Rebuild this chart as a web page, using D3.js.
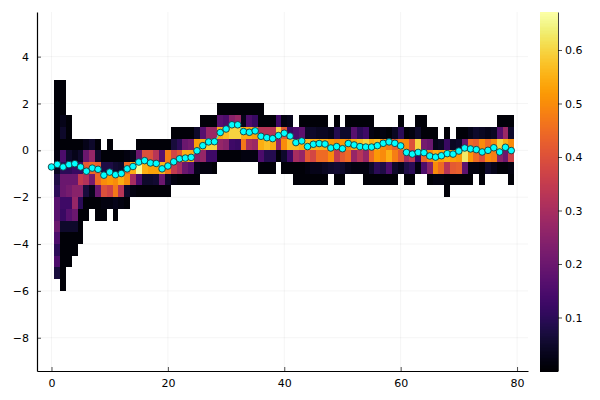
<!DOCTYPE html>
<html>
<head>
    <meta charset="utf-8">
    <title>Heatmap with means</title>
    <script src="https://d3js.org/d3.v7.min.js"></script>
    <style>
        body { margin: 0; background: #fff; }
        text { font-family: "DejaVu Sans", sans-serif; }
    </style>
</head>
<body>
    <div id="chart"></div>

    <script>
        const xTicks = [0, 20, 40, 60, 80];
        const yTicks = [-8, -6, -4, -2, 0, 2, 4];
        const colorTicks = [0.1, 0.2, 0.3, 0.4, 0.5, 0.6];

        // top edge of each histogram bin
        const binTops = [3, 2.5, 2, 1.5, 1, 0.5, 0, -0.5, -1, -1.5, -2, -2.5, -3, -3.5, -4, -4.5, -5, -5.5];
        const binSize = 0.5;

        // index of the first filled bin in each column (columns start at x = 1)
        const firstBin = [
            0, 0, 3, 5, 5, 5, 5, 5, 6, 5, 6, 6, 6, 6, 5, 5, 5, 5, 5, 5,
            4, 4, 4, 4, 4, 3, 3, 3, 2, 2, 2, 2, 2, 2, 2, 2, 3, 3, 3, 3,
            3, 4, 3, 3, 3, 3, 3, 4, 3, 4, 3, 3, 3, 3, 3, 4, 4, 4, 4, 3,
            4, 4, 3, 3, 4, 4, 5, 4, 5, 4, 4, 4, 4, 4, 4, 4, 3, 3, 3
        ];

        // density per column, reading down from the first filled bin
        const density = [
            [.01,.01,.01,.01,.01,.01,.02,.04,.08,.1,.17,.17,.2,.15,.1,.15,.07],
            [.01,.01,.01,.03,.05,.01,.15,.1,.2,.2,.13,.12,.05,.01,.01,.01,.01,.01],
            [.01,.01,.01,.05,.1,.2,.22,.13,.17,.05,.01,.01,.01],
            [.01,.03,.12,.2,.25,.27,.2,.05,.01,.01],
            [.01,.05,.12,.35,.25,.1,.01,.01,.01],
            [.03,.2,.42,.32,.07,.01,.01],
            [.05,.27,.45,.22,.03,.01],
            [.01,.05,.43,.45,.2,.01,.01],
            [.01,.08,.5,.4,.02,.01],
            [.01,.01,.08,.52,.37,.02],
            [.01,.06,.5,.47,.03,.01],
            [.01,.05,.55,.33,.02],
            [.02,.45,.5,.05,.01],
            [.03,.55,.3,.02],
            [.01,.2,.66,.15,.01],
            [.01,.4,.55,.05,.01],
            [.01,.4,.53,.05,.01],
            [.01,.33,.53,.06,.01],
            [.01,.17,.56,.2,.01],
            [.01,.48,.47,.05,.01],
            [.01,.07,.38,.35,.02],
            [.01,.1,.42,.3,.01],
            [.01,.2,.55,.2,.01],
            [.01,.22,.55,.17,.01],
            [.05,.53,.25,.03,.01],
            [.01,.17,.55,.27,.02],
            [.01,.28,.6,.13,.02],
            [.01,.28,.6,.13,.01],
            [.01,.17,.55,.27,.01],
            [.01,.15,.57,.25,.01],
            [.01,.25,.6,.13,.01],
            [.01,.28,.6,.12,.01],
            [.01,.03,.55,.47,.02],
            [.01,.15,.55,.3,.02],
            [.01,.12,.53,.28,.02],
            [.01,.01,.33,.55,.15,.01],
            [.01,.33,.57,.09,.01],
            [.01,.33,.55,.09,.01],
            [.13,.6,.27,.01],
            [.02,.42,.5,.05,.01],
            [.03,.12,.57,.13,.01],
            [.15,.57,.3,.01,.01],
            [.01,.18,.55,.27,.01,.01],
            [.01,.05,.57,.42,.02,.01],
            [.01,.05,.55,.38,.03,.01],
            [.01,.04,.55,.45,.03,.01],
            [.01,.04,.55,.45,.04,.01],
            [.03,.52,.5,.05],
            [.01,.09,.5,.35,.06,.01],
            [.05,.52,.42,.05,.01],
            [.01,.05,.5,.45,.03],
            [.01,.17,.55,.27,.02],
            [.01,.1,.57,.33,.02],
            [.01,.13,.6,.27,.02,.01],
            [.01,.02,.55,.45,.05,.01],
            [.01,.57,.52,.1,.01],
            [.02,.5,.5,.08,.01],
            [.01,.47,.55,.15,.01],
            [.04,.43,.48,.05,.01],
            [.01,.1,.5,.42,.03],
            [.01,.5,.3,.08,.01],
            [.02,.4,.35,.1,.01],
            [.01,.05,.6,.12,.02],
            [.01,.01,.22,.45,.15],
            [.01,.2,.5,.25,.01],
            [.01,.03,.55,.5,.02],
            [.04,.53,.45,.02],
            [.01,.12,.55,.33,.01,.01],
            [.04,.53,.42,.01],
            [.01,.05,.52,.43,.01],
            [.01,.2,.63,.18,.01],
            [.03,.45,.52,.02,.01],
            [.05,.43,.45,.02],
            [.04,.5,.4,.01,.01],
            [.03,.45,.5,.05],
            [.04,.5,.48,.03],
            [.01,.17,.6,.25,.01],
            [.01,.28,.55,.2,.01],
            [.01,.05,.5,.37,.02,.01]
        ];

        // mean at each x = 0..79
        const means = [
            -.71, -.6, -.71, -.61, -.57, -.71, -.89, -.76, -.81, -1.06,
            -.93, -1.04, -.99, -.79, -.69, -.5, -.44, -.54, -.56, -.79,
            -.67, -.49, -.36, -.33, -.3, -.02, .2, .36, .37, .76,
            .91, 1.09, 1.09, .8, .77, .83, .6, .54, .5, .63,
            .73, .61, .33, .4, .16, .26, .29, .27, .1, .16,
            .07, .29, .23, .16, .14, .14, .2, .3, .36, .3,
            .19, -.09, -.16, -.09, -.1, -.24, -.29, -.23, -.14, -.16,
            -.03, .1, .06, .03, -.07, 0, .11, -.07, .13, -.01
        ];

        const width = 600;
        const height = 400;
        const plot = { left: 37, right: 528, top: 12, bottom: 371 };
        const bar = { left: 540, right: 558 };

        const svg = d3.select('#chart')
            .append('svg')
            .attr('width', width)
            .attr('height', height)
            .style('display', 'block');

        const x = d3.scaleLinear()
            .domain([-2.49, 81.88])
            .range([plot.left, plot.right]);

        const y = d3.scaleLinear()
            .domain([-9.42, 5.905])
            .range([plot.bottom, plot.top]);

        const colorMax = 0.671;
        const color = d3.scaleSequential(d3.interpolateInferno)
            .domain([0, colorMax]);

        // grid
        svg.append('g')
            .selectAll('line')
            .data(xTicks)
            .enter()
            .append('line')
            .attr('x1', d => x(d))
            .attr('x2', d => x(d))
            .attr('y1', plot.top)
            .attr('y2', plot.bottom)
            .attr('stroke', '#000')
            .attr('stroke-opacity', 0.08)
            .attr('stroke-width', 0.6);

        svg.append('g')
            .selectAll('line')
            .data(yTicks)
            .enter()
            .append('line')
            .attr('x1', plot.left)
            .attr('x2', plot.right)
            .attr('y1', d => y(d))
            .attr('y2', d => y(d))
            .attr('stroke', '#000')
            .attr('stroke-opacity', 0.08)
            .attr('stroke-width', 0.6);

        // heatmap cells
        const cells = density.flatMap((col, i) =>
            col.map((v, j) => ({ k: i + 1, top: binTops[firstBin[i] + j], v })));

        svg.append('g')
            .selectAll('rect')
            .data(cells)
            .enter()
            .append('rect')
            .attr('x', d => x(d.k - 0.5))
            .attr('width', d => x(d.k + 0.5) - x(d.k - 0.5))
            .attr('y', d => y(d.top))
            .attr('height', d => y(d.top - binSize) - y(d.top))
            .attr('fill', d => color(d.v))
            .attr('shape-rendering', 'crispEdges');

        // mean line and markers
        const line = d3.line()
            .x((d, i) => x(i))
            .y(d => y(d));

        svg.append('path')
            .datum(means)
            .attr('d', line)
            .attr('fill', 'none')
            .attr('stroke', '#00ffff')
            .attr('stroke-width', 1);

        svg.append('g')
            .selectAll('circle')
            .data(means)
            .enter()
            .append('circle')
            .attr('cx', (d, i) => x(i))
            .attr('cy', d => y(d))
            .attr('r', 3.3)
            .attr('fill', '#00ffff')
            .attr('stroke', '#173a3f')
            .attr('stroke-width', 0.9);

        // axes
        const xAxis = svg.append('g')
            .attr('transform', `translate(0,${plot.bottom})`)
            .call(d3.axisBottom(x).tickValues(xTicks).tickFormat(d3.format('d')).tickSizeInner(-4).tickSizeOuter(0).tickPadding(8));

        const yAxis = svg.append('g')
            .attr('transform', `translate(${plot.left},0)`)
            .call(d3.axisLeft(y).tickValues(yTicks).tickFormat(d => d3.format('d')(d).replace(/[-\u2212]/, '\u2212')).tickSizeInner(-4).tickSizeOuter(0).tickPadding(8));

        // colorbar
        const barY = d3.scaleLinear()
            .domain([0, colorMax])
            .range([plot.bottom, plot.top]);

        const barSteps = d3.range(0, 256).map(i => i / 256 * colorMax);

        svg.append('g')
            .selectAll('rect')
            .data(barSteps)
            .enter()
            .append('rect')
            .attr('x', bar.left)
            .attr('width', bar.right - bar.left)
            .attr('y', d => barY(d + colorMax / 256))
            .attr('height', (plot.bottom - plot.top) / 256 + 1)
            .attr('fill', d => color(d + colorMax / 512))
            .attr('shape-rendering', 'crispEdges');

        const barAxis = svg.append('g')
            .attr('transform', `translate(${bar.right},0)`)
            .call(d3.axisRight(barY).tickValues(colorTicks).tickFormat(d3.format('.1f')).tickSizeInner(4).tickSizeOuter(0).tickPadding(3));

        [xAxis, yAxis, barAxis].forEach(g => {
            g.selectAll('text')
                .attr('font-family', '"DejaVu Sans", sans-serif')
                .attr('font-size', 11)
                .attr('fill', '#000');
            g.selectAll('.tick line').attr('stroke', '#000').attr('stroke-width', 0.7);
        });
        xAxis.select('.domain').attr('stroke', '#000').attr('stroke-width', 1.2);
        yAxis.select('.domain').attr('stroke', '#000').attr('stroke-width', 1.2);
        barAxis.select('.domain').attr('stroke', '#444').attr('stroke-width', 1);
    </script>
</body>
</html>
